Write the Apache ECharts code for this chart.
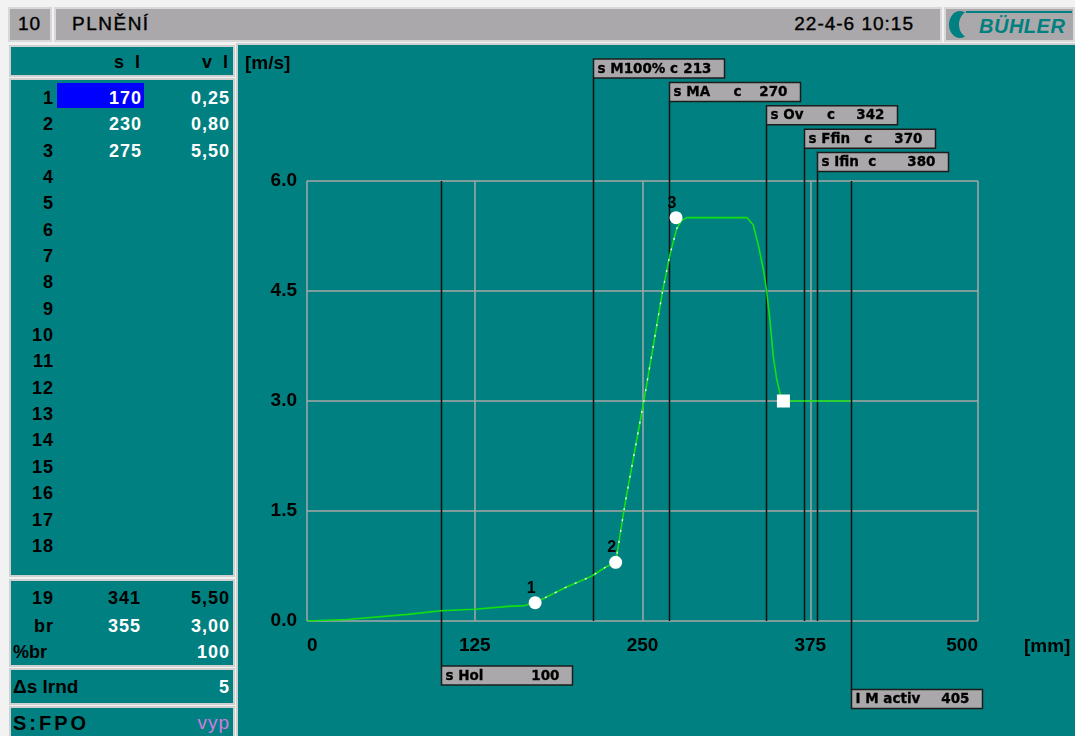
<!DOCTYPE html>
<html>
<head>
<meta charset="utf-8">
<title>PLNĚNÍ</title>
<script src="https://cdn.jsdelivr.net/npm/echarts@6/dist/echarts.min.js"></script>
<style>
  html, body { margin: 0; padding: 0; width: 1075px; height: 736px; overflow: hidden;
    background: #f2f2f2; font-family: "Liberation Sans", Arial, sans-serif; }
  .box { position: absolute; box-sizing: border-box; }
  .bar { background: #aaa8aa; border: 2px solid #d8d8d8; }
  .panel { background: #008080; border: 2px solid #d0d0d0; }
  .t { position: absolute; white-space: pre; line-height: 22px; font-size: 18px;
    font-weight: bold; letter-spacing: 1px; }
  .h { font-size: 19px; font-weight: normal; -webkit-text-stroke: 0.4px #000; }
  #chart { position: absolute; left: 0; top: 0; width: 1075px; height: 736px; }
  .crescent { position: absolute; left: 959px; top: 11px; width: 22px; height: 27px;
    border-radius: 50%; box-shadow: -10px 0 0 0 #008080; }
</style>
</head>
<body>
<!-- header bar -->
<div class="box bar" style="left:8px;top:7px;width:44px;height:35px;"></div>
<div class="box bar" style="left:54px;top:7px;width:888px;height:35px;"></div>
<div class="box bar" style="left:944px;top:7px;width:131px;height:35px;"></div>
<div class="t h" style="left:18px;top:13px;">10</div>
<div class="t h" style="left:72px;top:13px;letter-spacing:1.5px;">PLNĚNÍ</div>
<div class="t h" id="stamp" style="right:161px;top:13px;"></div>
<!-- maker logo -->
<div style="position:absolute;left:966px;top:11px;width:106px;height:2px;background:#008080;"></div>
<div class="crescent"></div>
<div class="t" style="left:979px;top:15px;color:#008080;font-size:20px;font-style:italic;font-weight:bold;letter-spacing:0.5px;">BÜHLER</div>

<!-- left column panels -->
<div class="box panel" style="left:9px;top:45px;width:226px;height:32px;"></div>
<div class="box panel" style="left:9px;top:78px;width:226px;height:499px;"></div>
<div class="box panel" style="left:9px;top:579px;width:226px;height:88px;"></div>
<div class="box panel" style="left:9px;top:668px;width:226px;height:37px;"></div>
<div class="box panel" style="left:9px;top:706px;width:226px;height:40px;"></div>
<!-- chart panel -->
<div class="box panel" style="left:236px;top:43px;width:845px;height:700px;"></div>
<div id="left"></div>
<div id="chart"></div>

<script>
// ---- profile setpoints (table rows 1..3) ----
const pointS = [170, 230, 275];        // s l [mm]
const pointV = [0.25, 0.80, 5.50];     // v l [m/s]
const tableRows = 18;

// ---- end / brake settings ----
const endRow = { label: '19', s: 341, v: 5.50 };
const brakeS = [355];
const brakeV = [3.00];
const brakePct = 100;
const lrnd = 5;
const fpoState = 'vyp';
const stamp = '22-4-6 10:15';

// ---- computed velocity profile [mm] / [m/s] ----
const profileS = [0, 30, 75, 100, 125, 150, 162, 170, 193, 212, 223, 230, 237, 251, 265, 270.5,
  275.5, 279, 283, 328, 332.5, 336, 340, 342.5, 345, 347.5, 350, 352.5, 355, 405];
const profileV = [0, 0.02, 0.09, 0.14, 0.16, 0.20, 0.21, 0.25, 0.46, 0.61, 0.74, 0.80, 1.60, 3.00,
  4.50, 5.00, 5.35, 5.46, 5.50, 5.50, 5.40, 5.15, 4.80, 4.50, 4.10, 3.60, 3.30, 3.10, 3.00, 3.00];

// ---- switch points along the stroke ----
const markerNames  = ['s Hol', 's M100% c', 's MA     c', 's Ov     c', 's Ffin   c', 's Ifin  c', 'I M activ'];
const markerValues = [100, 213, 270, 342, 370, 380, 405];
const markerBelow  = [true, false, false, false, false, false, true];

// ---- axis ticks ----
const xTicks = [0, 125, 250, 375, 500];
const yTicks = [0.0, 1.5, 3.0, 4.5, 6.0];

const fmt = v => v.toFixed(2).replace('.', ',');
document.getElementById('stamp').textContent = stamp;

// ---- left table ----
const left = document.getElementById('left');
function put(text, x, y, align, color, extra) {
  const d = document.createElement('div');
  d.className = 't';
  d.textContent = text;
  d.style.top = (y - 11) + 'px';
  d.style.color = color || '#000';
  if (align === 'right') d.style.right = (1075 - x - 1) + 'px';
  else d.style.left = x + 'px';
  if (extra) Object.assign(d.style, extra);
  left.appendChild(d);
  return d;
}
const hl = document.createElement('div');
hl.style.cssText = 'position:absolute;left:57px;top:83px;width:87px;height:25px;background:#0000ff;';
left.appendChild(hl);

put('s l', 142, 62, 'right', '#000', { letterSpacing: '3px' });
put('v l', 230, 62, 'right', '#000', { letterSpacing: '3px' });
for (let i = 0; i < tableRows; i++) {
  const y = 97.8 + i * 26.36;
  put(String(i + 1), 53, y, 'right', '#000');
  if (i < pointS.length) {
    put(String(pointS[i]), 141, y, 'right', '#fff');
    put(fmt(pointV[i]), 229, y, 'right', '#fff');
  }
}
put(endRow.label, 53, 598, 'right', '#000');
put(String(endRow.s), 140, 598, 'right', '#000');
put(fmt(endRow.v), 229, 598, 'right', '#000');
put('br', 53, 626, 'right', '#000');
put(String(brakeS[0]), 140, 626, 'right', '#fff');
put(fmt(brakeV[0]), 229, 626, 'right', '#fff');
put('%br', 13, 652, 'left', '#000', { letterSpacing: '0px' });
put(String(brakePct), 229, 652, 'right', '#fff');
put('Δs lrnd', 13, 687, 'left', '#000', { letterSpacing: '0px', fontSize: '19px' });
put(String(lrnd), 229, 687, 'right', '#fff');
put('S:FPO', 13, 723, 'left', '#000', { letterSpacing: '3px', fontSize: '20px' });
put(fpoState, 229, 723, 'right', '#d07ce0', { fontWeight: 'normal', fontSize: '19px' });

// ---- chart ----
const FONT = '"Liberation Sans", Arial, sans-serif';
const BOXFONT = '"DejaVu Sans", sans-serif';
const chart = echarts.init(document.getElementById('chart'), null, { renderer: 'canvas' });

let up = 0, dn = 0;
const markerTier = markerBelow.map(b => (b ? dn++ : up++));

function renderMarker(params, api) {
  const cs = params.coordSys;
  const i = params.dataIndex;
  const x = Math.round(api.coord([api.value(0), 0])[0]) + 0.5;
  const bw = 131, bh = 19;
  let boxTop, y1, y2;
  if (!markerBelow[i]) {
    boxTop = cs.y - 122 + 23.4 * markerTier[i];
    y1 = boxTop + bh; y2 = cs.y + cs.height;
  } else {
    boxTop = cs.y + cs.height + 45 + 23.4 * markerTier[i];
    y1 = cs.y; y2 = boxTop;
  }
  const ty = boxTop + bh / 2 + 0.5;
  const txt = {
    fill: '#000', fontSize: 13.5, fontWeight: 'bold', fontFamily: BOXFONT,
    verticalAlign: 'middle', stroke: '#000', lineWidth: 0.3
  };
  return {
    type: 'group',
    children: [
      { type: 'line', shape: { x1: x, y1: y1, x2: x, y2: y2 }, style: { stroke: '#101010', lineWidth: 1.5 } },
      { type: 'rect', shape: { x: x, y: boxTop, width: bw, height: bh },
        style: { fill: '#aaa8aa', stroke: '#1c1c1c', lineWidth: 1.5 } },
      { type: 'text', x: x + 4, y: ty,
        style: Object.assign({ text: markerNames[i], align: 'left' }, txt) },
      { type: 'text', x: x + bw - 13, y: ty,
        style: Object.assign({ text: String(markerValues[i]), align: 'right' }, txt) }
    ]
  };
}

const profile = profileS.map((s, i) => [s, profileV[i]]);
const rising = profile.filter(p => p[0] >= pointS[0] && p[0] <= 279);

const option = {
  backgroundColor: 'transparent',
  animation: false,
  grid: { left: 307, top: 181, width: 671, height: 440, outerBoundsMode: 'none' },
  xAxis: {
    type: 'value', min: xTicks[0], max: xTicks[xTicks.length - 1], interval: xTicks[1] - xTicks[0],
    axisLine: { show: false }, axisTick: { show: false },
    splitLine: { show: true, lineStyle: { color: '#a8a8a8', width: 1.5 } },
    axisLabel: { color: '#000', fontSize: 19, fontWeight: 'bold', fontFamily: FONT, margin: 15,
                 alignMinLabel: 'left', alignMaxLabel: 'right' },
    name: '[mm]', nameLocation: 'end', nameGap: 46,
    nameTextStyle: { color: '#000', fontSize: 19, fontWeight: 'bold', fontFamily: FONT,
                     align: 'left', verticalAlign: 'top', padding: [16, 0, 0, 0] }
  },
  yAxis: {
    type: 'value', min: yTicks[0], max: yTicks[yTicks.length - 1], interval: yTicks[1] - yTicks[0],
    axisLine: { show: false }, axisTick: { show: false },
    splitLine: { show: true, lineStyle: { color: '#a8a8a8', width: 1.5 } },
    axisLabel: { color: '#000', fontSize: 19, fontWeight: 'bold', fontFamily: FONT, margin: 10,
                 formatter: v => v.toFixed(1) }
  },
  graphic: [
    { type: 'text', left: 245, top: 54,
      style: { text: '[m/s]', fill: '#000', fontSize: 19, fontWeight: 'bold', fontFamily: FONT } }
  ],
  series: [
    {
      type: 'custom', name: 'switch points', clip: false, z: 2,
      data: markerValues.map(v => [v, 0]),
      encode: { x: 0, y: 1 },
      renderItem: renderMarker
    },
    {
      type: 'line', name: 'profile', data: profile, z: 3, showSymbol: false, smooth: false,
      lineStyle: { color: '#12e012', width: 1.6 }
    },
    {
      type: 'line', name: 'measured', data: rising, z: 4, showSymbol: false,
      lineStyle: { color: '#ffffff', width: 1.3, type: [2, 9] }
    },
    {
      type: 'scatter', name: 'setpoints', z: 5, symbol: 'circle', symbolSize: 13,
      itemStyle: { color: '#ffffff', opacity: 1 },
      data: pointS.map((s, i) => [s, pointV[i]]),
      label: { show: true, position: 'top', distance: 0, offset: [-4, 0], color: '#000',
               fontSize: 16, fontWeight: 'bold', fontFamily: FONT,
               formatter: p => String(p.dataIndex + 1) }
    },
    {
      type: 'scatter', name: 'brake', z: 5, symbol: 'rect', symbolSize: 13,
      itemStyle: { color: '#ffffff', opacity: 1 },
      data: brakeS.map((s, i) => [s, brakeV[i]])
    }
  ]
};
chart.setOption(option);
</script>
</body>
</html>
